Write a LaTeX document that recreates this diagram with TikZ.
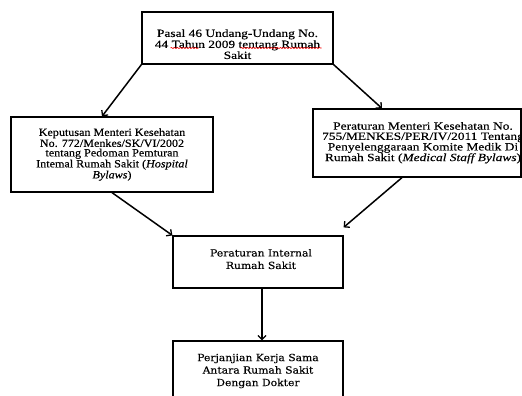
\documentclass[tikz,border=0pt]{standalone}
\usepackage{fontspec}
\setmainfont{Liberation Serif}
\newfontfamily\fA{Liberation Serif}[FakeStretch=1.22,FakeBold=0.3]
\newfontfamily\fB{Liberation Serif}[FakeStretch=1.1,FakeBold=0.3]
\newfontfamily\fC{DejaVu Serif}[FakeStretch=1.1,FakeBold=0.2]
\usetikzlibrary{arrows.meta,decorations.pathmorphing}
\tikzset{
  box/.style={draw=black, line width=1.2pt, fill=white, inner sep=0pt, align=center},
  ftop/.style={font={\fA\fontsize{11}{10}\selectfont}},
  fleft/.style={font={\fB\fontsize{11}{9.5}\selectfont}},
  flow/.style={font={\fC\fontsize{9.8}{12.5}\selectfont}},
  arr/.style={draw=black, line width=1.5pt, -{Straight Barb[length=4pt,width=8pt,line width=1.3pt]}},
  squiggle/.style={draw=red, line width=0.6pt, decorate, decoration={snake, amplitude=0.6pt, segment length=3pt}}
}
\begin{document}
\begin{tikzpicture}[x=1pt,y=-1pt]
\useasboundingbox[fill=white] (0,0) rectangle (522,396);
\clip (0,0) rectangle (522,396);
\node[box, ftop, minimum width=191pt, minimum height=52pt] (top) at (237.5,38)
  {\rule{0pt}{20pt}Pasal 46 Undang-Undang No.\\44 Tahun 2009 tentang Rumah\\Sakit};
\node[box, fleft, minimum width=202pt, minimum height=75pt] (left) at (112,154.5)
  {Keputusan Menteri Kesehatan\\No. 772/Menkes/SK/VI/2002\\tentang Pedoman Pemturan\\Intemal Rumah Sakit (\textit{Hospital}\\\textit{Bylaws})};
\node[box, ftop, minimum width=208pt, minimum height=68pt] (right) at (417,143)
  {\makebox[0pt]{\hspace*{12pt}\def\arraystretch{0.97}\begin{tabular}{@{}c@{}}Peraturan Menteri Kesehatan No.\\755/MENKES/PER/IV/2011 Tentang\\Penyelenggaraan Komite Medik Di\\Rumah Sakit (\textit{Medical Staff Bylaws})\end{tabular}}};
\node[box, flow, minimum width=170pt, minimum height=52pt] (mid) at (258,262)
  {\hspace*{6pt}Peraturan Internal\\\hspace*{6pt}Rumah Sakit\rule[-6pt]{0pt}{6pt}};
\node[box, flow, minimum width=170pt, minimum height=60pt] (bot) at (258,371)
  {Perjanjian Kerja Sama\\Antara Rumah Sakit\\Dengan Dokter};
\draw[squiggle] ([shift={(-67,10)}]top.center) -- ([shift={(-39,10)}]top.center);
\draw[squiggle] ([shift={(3,10)}]top.center) -- ([shift={(84,10)}]top.center);
\draw[arr] (top.south west) -- ([xshift=-10pt]left.north);
\draw[arr] (top.south east) -- ([xshift=-35pt]right.north);
\draw[arr] (left.south) -- (mid.north west);
\draw[arr] ([xshift=-15pt]right.south) -- ([yshift=8pt]mid.north east);
\draw[arr] ([xshift=4pt]mid.south) -- ([xshift=4pt]bot.north);
\end{tikzpicture}
\end{document}
